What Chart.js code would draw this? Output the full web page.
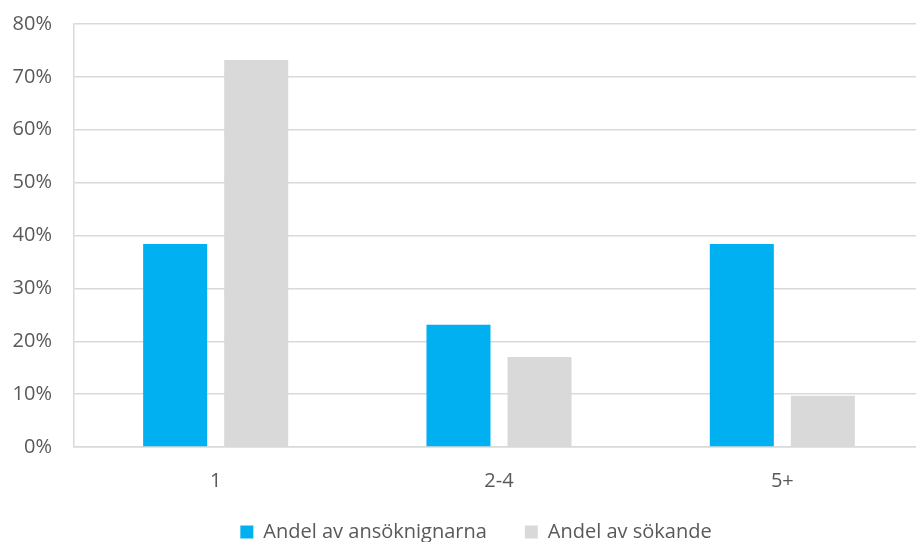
<!DOCTYPE html>
<html><head><meta charset="utf-8">
<script src="https://cdn.jsdelivr.net/npm/chart.js@4/dist/chart.umd.min.js"></script>
<style>html,body{margin:0;padding:0;background:#fff;overflow:hidden}#wrap{width:916px;height:542px;overflow:hidden}</style>
</head><body><div id="wrap"><canvas id="c" width="924" height="542"></canvas></div>
<script>
const categories = ["1", "2-4", "5+"];
const seriesNames = ["Andel av ansöknignarna", "Andel av sökande"];
const applications = [0.384, 0.231, 0.384];
const applicants = [0.732, 0.170, 0.097];
const yTicks = [0, 0.1, 0.2, 0.3, 0.4, 0.5, 0.6, 0.7, 0.8];

const FONT = "'Open Sans', 'Liberation Sans', sans-serif";
Chart.defaults.font.family = FONT;
Chart.defaults.color = "#595959";

const legendShift = {
  id: "legendShift",
  afterLayout(chart) {
    const lg = chart.legend;
    if (!lg) return;
    lg.top = 484; lg.bottom = 542; lg.height = 58;
    lg.left += 14; lg.right += 14;
  }
};

new Chart(document.getElementById("c"), {
  type: "bar",
  data: {
    labels: categories,
    datasets: [
      { label: seriesNames[0], data: applications, backgroundColor: "#00b0f0" },
      { label: seriesNames[1], data: applicants, backgroundColor: "#d9d9d9" }
    ]
  },
  plugins: [legendShift],
  options: {
    responsive: false,
    animation: false,
    devicePixelRatio: 1,
    layout: { padding: { top: 24, right: 0, left: 0, bottom: 0 } },
    datasets: { bar: { categoryPercentage: 0.572, barPercentage: 0.79 } },
    plugins: {
      tooltip: { enabled: false },
      legend: {
        position: "bottom",
        maxHeight: 30,
        labels: { boxWidth: 13, boxHeight: 13, font: { size: 20 }, padding: 38, color: "#595959" }
      }
    },
    scales: {
      x: {
        grid: { display: false },
        border: { display: true, color: "#d9d9d9", width: 1.5 },
        ticks: { font: { size: 20 }, padding: 14 },
        afterFit: s => { s.height = 65; }
      },
      y: {
        min: 0, max: 0.8,
        afterBuildTicks: s => { s.ticks = yTicks.map(v => ({ value: v })); },
        grid: { color: "#d9d9d9", lineWidth: 1.5, drawTicks: false },
        border: { display: true, color: "#d9d9d9", width: 1.5 },
        ticks: { font: { size: 20 }, padding: 22, callback: v => Math.round(v * 100) + "%" },
        afterFit: s => { s.width = 74; s.paddingTop = 0; s.paddingBottom = 0; }
      }
    }
  }
});
</script></body></html>
